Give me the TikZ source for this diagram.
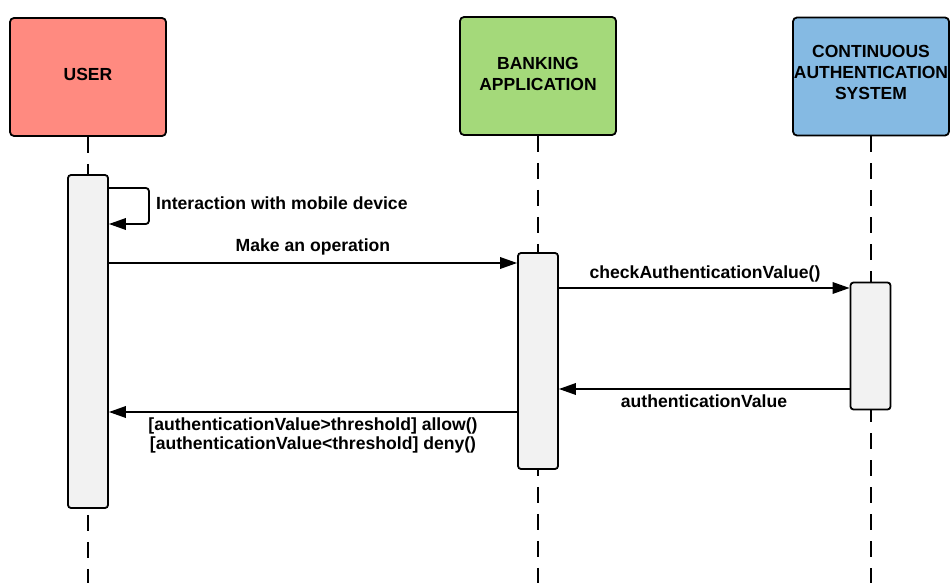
\documentclass[tikz,border=0pt]{standalone}
\usepackage{fontspec}
\setmainfont{Liberation Sans}
\usetikzlibrary{arrows.meta}
\definecolor{userred}{RGB}{255,138,128}
\definecolor{bankgreen}{RGB}{164,217,122}
\definecolor{casblue}{RGB}{133,186,227}
\definecolor{actgray}{RGB}{242,242,242}

\begin{document}
\begin{tikzpicture}[x=1pt,y=-1pt,
  head/.style={draw=black, line width=1.8pt, rounded corners=4pt,
    minimum width=156pt, minimum height=118pt, inner sep=0pt,
    align=center, font=\fontsize{17.5}{21}\selectfont\bfseries, text depth=5pt},
  actbox/.style={draw=black, fill=actgray, line width=1.8pt, rounded corners=3pt,
    minimum width=40pt, inner sep=0pt},
  lifeline/.style={line width=1.8pt, dash pattern=on 16pt off 11pt},
  msg/.style={line width=1.8pt, -{Triangle[length=17pt,width=11.5pt]}},
  lbl/.style={font=\fontsize{17.6}{18.5}\selectfont\bfseries, inner sep=0pt, anchor=base}
]
\useasboundingbox (0,0) rectangle (950,583);

% participants
\node[head, fill=userred]   (user) at (88,77)    {USER};
\node[head, fill=bankgreen] (bank) at (538,76)   {BANKING\\APPLICATION};
\node[head, fill=casblue, text depth=9pt] (cas) at (871,76.5) {CONTINUOUS\\AUTHENTICATION\\SYSTEM};

% lifelines
\draw[lifeline] (user.south) -- (user.south |- 0,583);
\draw[lifeline] (bank.south) -- (bank.south |- 0,583);
\draw[lifeline] (cas.south)  -- (cas.south |- 0,583);

% activation bars
\node[actbox, minimum height=333pt] (ua) at (88,341.5) {};
\node[actbox, minimum height=216pt] (ba) at (538,361)  {};
\node[actbox, minimum height=127pt] (ca) at (870.5,346) {};

% self message on the user
\draw[msg, rounded corners=3pt] (ua.east |- 0,188) -- ++(40,0) -- ++(0,36) -- (ua.east |- 0,224);
\node[lbl, anchor=base west] (l1) at (156,209) {Interaction with mobile device};

% operation request
\draw[msg] (ua.east |- 0,263) -- (ba.west |- 0,263);
\node[lbl] (l2) at (313,251) {Make an operation};

% authentication check
\draw[msg] (ba.east |- 0,288) -- (ca.west |- 0,288);
\node[lbl] (l3) at (705,278) {checkAuthenticationValue()};

% authentication value returned
\draw[msg] (ca.west |- 0,389) -- (ba.east |- 0,389);
\node[lbl] (l4) at (704,407) {authenticationValue};

% decision returned to the user
\draw[msg] (ba.west |- 0,412) -- (ua.east |- 0,412);
\node[lbl, align=center, anchor=base] (l5) at (313,449)
  {[authenticationValue>threshold] allow()\\\relax[authenticationValue<threshold] deny()};
\end{tikzpicture}
\end{document}
